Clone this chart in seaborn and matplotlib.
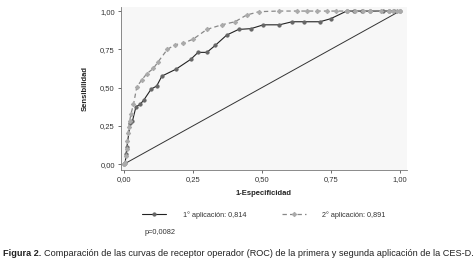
import pandas as pd
import seaborn as sns
import matplotlib.pyplot as plt
from matplotlib.ticker import FuncFormatter

# ROC curve points
fpr1 = [0.0, 0.004, 0.007, 0.010, 0.022, 0.030, 0.043, 0.058, 0.072, 0.098, 0.118,
        0.137, 0.188, 0.242, 0.268, 0.300, 0.330, 0.372, 0.415, 0.460, 0.505, 0.563,
        0.609, 0.652, 0.710, 0.749, 0.807, 0.835, 0.862, 0.890, 0.940, 0.960, 0.980, 1.0]
tpr1 = [0.0, 0.007, 0.065, 0.110, 0.270, 0.280, 0.375, 0.390, 0.420, 0.490, 0.510,
        0.575, 0.620, 0.685, 0.730, 0.730, 0.775, 0.843, 0.880, 0.885, 0.910, 0.910,
        0.930, 0.930, 0.930, 0.950, 1.0, 1.0, 1.0, 1.0, 1.0, 1.0, 1.0, 1.0]

fpr2 = [0.0, 0.004, 0.007, 0.010, 0.012, 0.014, 0.017, 0.020, 0.025, 0.034, 0.046,
        0.064, 0.082, 0.106, 0.124, 0.157, 0.185, 0.215, 0.251, 0.300, 0.354, 0.402,
        0.444, 0.490, 0.560, 0.626, 0.663, 0.700, 0.734, 0.770, 0.807, 0.837, 0.866,
        0.890, 0.930, 0.960, 0.975, 0.990, 1.0]
tpr2 = [0.0, 0.006, 0.050, 0.100, 0.150, 0.200, 0.240, 0.280, 0.330, 0.390, 0.505,
        0.550, 0.590, 0.625, 0.670, 0.750, 0.780, 0.790, 0.817, 0.880, 0.910, 0.930,
        0.974, 0.996, 1.0, 1.0, 1.0, 1.0, 1.0, 1.0, 1.0, 1.0, 1.0,
        1.0, 1.0, 1.0, 1.0, 1.0, 1.0]

label1 = "1° aplicación: 0,814"
label2 = "2° aplicación: 0,891"
ticks = [0.0, 0.25, 0.5, 0.75, 1.0]

df1 = pd.DataFrame({"x": fpr1, "y": tpr1})
df2 = pd.DataFrame({"x": fpr2, "y": tpr2})

sns.set_theme(style="white")
plt.rcParams['font.family'] = ['Liberation Sans', 'DejaVu Sans']

fig = plt.figure(figsize=(4.73, 2.62), dpi=100)
ax = fig.add_axes([0.256, 0.351, 0.604, 0.622])
ax.set_facecolor('#f7f7f7')

ax.plot([0, 1], [0, 1], color='#333333', lw=0.7)
sns.lineplot(data=df1, x="x", y="y", ax=ax, sort=False, color='#222222', lw=0.8,
             marker='o', markersize=2.3, markerfacecolor='#666666',
             markeredgecolor='#666666', label=label1)
sns.lineplot(data=df2, x="x", y="y", ax=ax, sort=False, color='#888888', lw=0.9,
             linestyle=(0, (3.5, 2.5)), marker='D', markersize=2.2,
             markerfacecolor='#aaaaaa', markeredgecolor='#aaaaaa', label=label2)

ax.set_xlim(-0.011, 1.025)
ax.set_ylim(-0.039, 1.026)
ax.set_xticks(ticks)
ax.set_yticks(ticks)
fmt = FuncFormatter(lambda v, p: f"{v:.2f}".replace('.', ','))
ax.xaxis.set_major_formatter(fmt)
ax.yaxis.set_major_formatter(fmt)
ax.tick_params(axis='both', labelsize=5.5, length=2.5, width=0.6, color='#555555',
               colors='#333333', pad=2, direction='out', bottom=True, left=True)

for s in ['top', 'right']:
    ax.spines[s].set_visible(False)
for s in ['left', 'bottom']:
    ax.spines[s].set_color('#777777')
    ax.spines[s].set_linewidth(0.6)

ax.set_xlabel("1-Especificidad", fontsize=5.5, fontweight='bold', color='#222222', labelpad=5)
ax.set_ylabel("Sensibilidad", fontsize=5.5, fontweight='bold', color='#222222', labelpad=8)

handles, labels = ax.get_legend_handles_labels()
ax.get_legend().remove()
fig.legend(handles, labels, loc='center left', bbox_to_anchor=(0.301, 0.179), ncol=2,
           frameon=False, fontsize=5.2, handlelength=3.3, columnspacing=4.9,
           handletextpad=2.3, labelcolor='#333333', borderpad=0, borderaxespad=0)

fig.text(0.306, 0.111, "p=0,0082", fontsize=5.3, color='#333333', va='center')

# caption: bold label followed by normal text
cap_size = 6.56
t1 = fig.text(0.006, 0.034, "Figura 2.", fontsize=cap_size, fontweight='bold',
              color='#222222', va='center')
fig.canvas.draw()
bb = t1.get_window_extent(fig.canvas.get_renderer())
x2 = (bb.x1 + 2.5) / fig.bbox.width
fig.text(x2, 0.034,
         "Comparación de las curvas de receptor operador (ROC) de la primera y segunda aplicación de la CES-D.",
         fontsize=cap_size, color='#222222', va='center')

fig.savefig("out.png", dpi=100)
